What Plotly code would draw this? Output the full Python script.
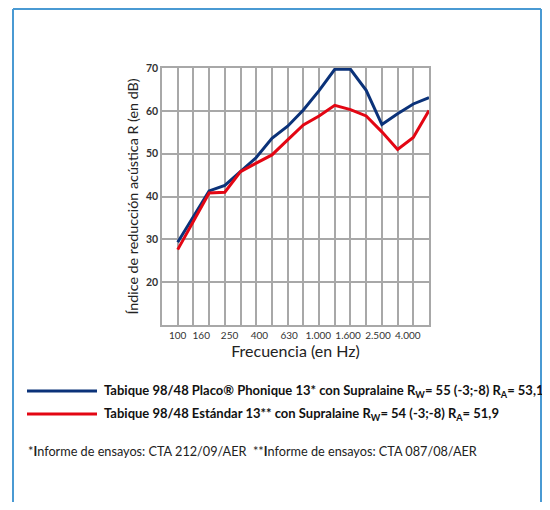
import plotly.graph_objects as go

# ---- data ----
bands = ["100", "125", "160", "200", "250", "315", "400", "500", "630", "800",
         "1000", "1250", "1600", "2000", "2500", "3150", "4000"]
placo_phonique = [29.3, 35.3, 41.3, 42.6, 45.9, 49.1, 53.6, 56.4, 60.2, 64.7,
                  69.7, 69.7, 64.8, 56.8, 59.3, 61.6, 63.1]
estandar = [27.6, 34.2, 40.8, 41.0, 45.8, 47.8, 49.7, 53.2, 56.7, 58.8,
            61.3, 60.3, 58.8, 55.1, 51.0, 53.8, 60.1]
tick_text = ["100", "160", "250", "400", "630", "1.000", "1.600", "2.500", "4.000"]
tick_pos = [0, 1.5, 3.3, 5.2, 7.1, 8.95, 10.85, 12.75, 14.65]
y_ticks = [20, 30, 40, 50, 60, 70]

names = [
    "<b>Tabique 98/48 Placo® Phonique 13* con Supralaine R<sub>W</sub>= 55 (-3;-8) R<sub>A</sub>= 53,1</b>",
    "<b>Tabique 98/48 Estándar 13** con Supralaine R<sub>W</sub>= 54 (-3;-8) R<sub>A</sub>= 51,9</b>",
]
footnote = ("*<b>I</b>nforme de ensayos: CTA 212/09/AER  "
            "**<b>I</b>nforme de ensayos: CTA 087/08/AER")

BLUE = "#0b3279"
RED = "#e30613"
GRID = "#a8a8a8"
FRAME = "#4a9ad3"
FONT = "Lato"

OFF = 8  # page body margin
W, H = 550 - 2 * OFF, 510 - 2 * OFF
L, T = 162 - OFF, 68 - OFF
pw, ph = 267, 257
R, B = W - L - pw, H - T - ph

def px(x):
    return (x - OFF - L) / pw

def py(y):
    return (T + ph + OFF - y) / ph

xidx = list(range(len(bands)))

fig = go.Figure()
fig.add_trace(go.Scatter(x=xidx, y=placo_phonique, mode="lines",
                         line=dict(color=BLUE, width=3), showlegend=False))
fig.add_trace(go.Scatter(x=xidx, y=estandar, mode="lines",
                         line=dict(color=RED, width=3), showlegend=False))
fig.add_trace(go.Scatter(x=tick_pos, y=[None] * len(tick_pos), xaxis="x2",
                         mode="lines", showlegend=False, hoverinfo="skip"))

fx0, fx1, fy_top, fy_bot = px(13), px(541), py(9), py(520)
frame_line = dict(color=FRAME, width=2)
shapes = [
    dict(type="line", xref="paper", yref="paper", x0=fx0, x1=fx0, y0=fy_bot, y1=fy_top, line=frame_line),
    dict(type="line", xref="paper", yref="paper", x0=fx1, x1=fx1, y0=fy_bot, y1=fy_top, line=frame_line),
    dict(type="line", xref="paper", yref="paper", x0=fx0, x1=fx1, y0=fy_top, y1=fy_top, line=frame_line),
]
annotations = []
legend_y = [391, 414]
for name, color, ly in zip(names, [BLUE, RED], legend_y):
    shapes.append(dict(type="line", xref="paper", yref="paper",
                       x0=px(27), x1=px(97), y0=py(ly), y1=py(ly),
                       line=dict(color=color, width=3)))
    annotations.append(dict(text=name, xref="paper", yref="paper",
                            x=px(102), y=py(ly), xanchor="left", yanchor="middle",
                            showarrow=False, font=dict(family=FONT, size=13, color="#111")))
annotations.append(dict(text=footnote, xref="paper", yref="paper",
                        x=px(26), y=py(451), xanchor="left", yanchor="middle",
                        showarrow=False, font=dict(family=FONT, size=12.7, color="#222")))

fig.update_layout(
    width=W, height=H,
    margin=dict(l=L, r=R, t=T, b=B, autoexpand=False),
    paper_bgcolor="white", plot_bgcolor="white",
    font=dict(family=FONT, color="#222"),
    shapes=shapes, annotations=annotations,
    xaxis=dict(range=[-1, 16], tickvals=xidx, showticklabels=False,
               showgrid=True, gridcolor=GRID, gridwidth=1.5,
               showline=True, linecolor=GRID, linewidth=1.5, mirror=True,
               zeroline=False, ticks=""),
    xaxis2=dict(range=[-1, 16], overlaying="x", anchor="y", side="bottom",
                tickvals=tick_pos, ticktext=tick_text, showgrid=False,
                zeroline=False, ticks="", showline=False, tickangle=0,
                ticklabelstandoff=3,
                tickfont=dict(family=FONT, size=10, color="#333"),
                title=dict(text="Frecuencia (en Hz)", standoff=4,
                           font=dict(family=FONT, size=16, color="#222"))),
    yaxis=dict(range=[10, 70], tickvals=y_ticks, showgrid=True, gridcolor=GRID,
               gridwidth=1.5, showline=True, linecolor=GRID, linewidth=1.5,
               mirror=True, zeroline=False, ticks="",
               tickfont=dict(family=FONT, size=10.5, color="#333", weight="bold"),
               title=dict(text="Índice de reducción acústica R (en dB)", standoff=4,
                          font=dict(family=FONT, size=14.3, color="#222"))),
)

fig.write_html("out.html")
